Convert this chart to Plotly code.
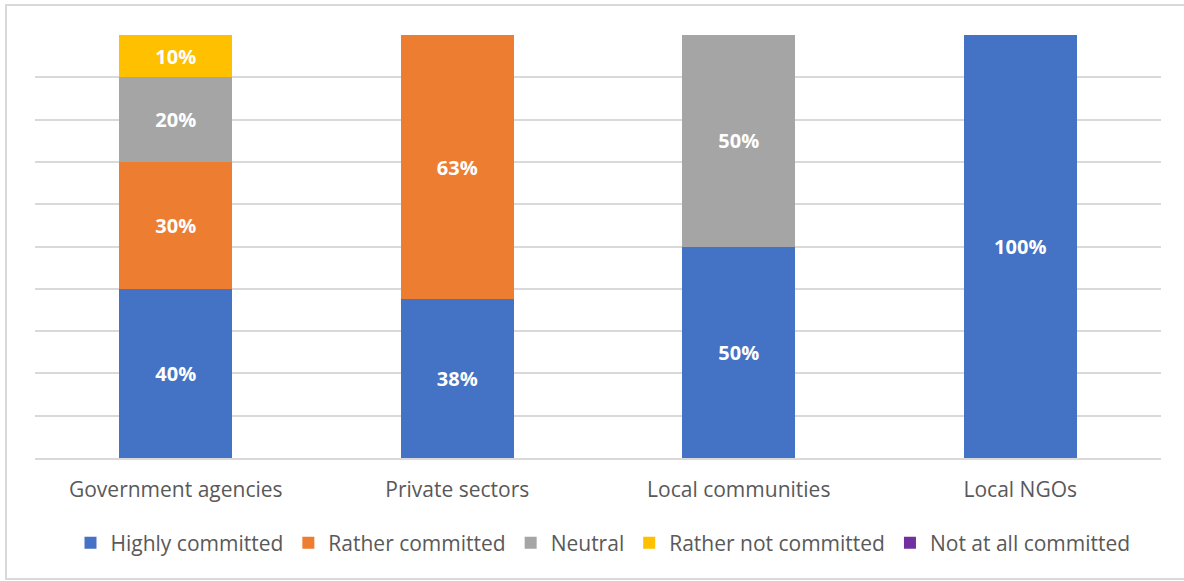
import plotly.graph_objects as go

categories = ["Government agencies", "Private sectors", "Local communities", "Local NGOs"]
series_names = ["Highly committed", "Rather committed", "Neutral", "Rather not committed", "Not at all committed"]
highly = [40, 37.5, 50, 100]
rather = [30, 62.5, 0, 0]
neutral = [20, 0, 50, 0]
rather_not = [10, 0, 0, 0]
not_at_all = [0, 0, 0, 0]
colors = ["#4472C4", "#ED7D31", "#A5A5A5", "#FFC000", "#7030A0"]

values = [highly, rather, neutral, rather_not, not_at_all]

fig = go.Figure()
for name, vals, col in zip(series_names, values, colors):
    fig.add_trace(go.Bar(
        x=categories, y=vals, name=name,
        marker=dict(color=col, line=dict(width=0)),
        text=[f"{int(v + 0.5)}%" if v > 0 else "" for v in vals],
        textposition="inside", insidetextanchor="middle",
        textfont=dict(family="Open Sans", size=20, color="white", weight="bold"),
        textangle=0,
    ))

L, R, T, B = 35, 23, 35, 123
W, H = 1184, 581
pw, ph = W - L - R, H - T - B

def px_x(px):
    return (px - L) / pw

def px_y(py):
    return (H - B - py) / ph

fig.update_layout(
    barmode="stack",
    bargap=0.6,
    width=W, height=H,
    margin=dict(l=L, r=R, t=T, b=B),
    paper_bgcolor="white", plot_bgcolor="white",
    font=dict(family="Open Sans", color="#595959"),
    xaxis=dict(tickfont=dict(size=21, color="#595959"), showline=True, linecolor="#D9D9D9",
               linewidth=2, ticks="", showgrid=False, ticklabelstandoff=12),
    yaxis=dict(range=[0, 100], dtick=10, showgrid=True, gridcolor="#D9D9D9", gridwidth=2,
               showticklabels=False, zeroline=False, ticks=""),
    legend=dict(orientation="h", x=px_x(603), xanchor="center", y=px_y(543), yanchor="middle",
                font=dict(size=21, color="#595959"), traceorder="normal",
                itemwidth=30),
    showlegend=True,
    uniformtext=dict(mode="show", minsize=10),
)

fig.add_shape(type="path", xref="paper", yref="paper",
              path=f"M {px_x(1300)} {px_y(5)} L {px_x(6)} {px_y(5)} L {px_x(6)} {px_y(579)} L {px_x(1300)} {px_y(579)}",
              line=dict(color="#D9D9D9", width=2))

fig.write_html("out.html")
